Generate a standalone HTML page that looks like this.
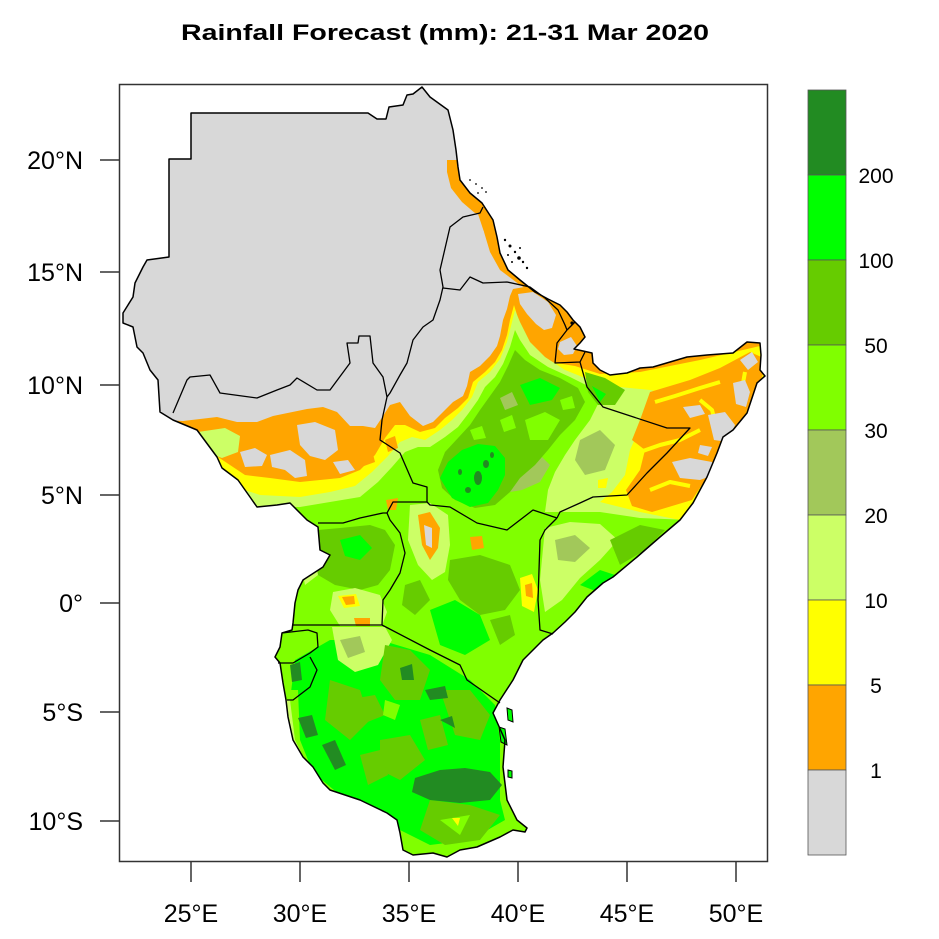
<!DOCTYPE html>
<html><head><meta charset="utf-8"><style>
html,body{margin:0;padding:0;background:#fff;}
svg{display:block;}
text{font-family:"Liberation Sans",Arial,sans-serif;fill:#000;}
</style></head><body>
<svg width="939" height="939" viewBox="0 0 939 939" xmlns="http://www.w3.org/2000/svg">
<defs>
<clipPath id="land"><path id="outl" d="M191,113 L368,113 L377,119 L386,119 L389,107 L403,105 L407,95 L413,94 L422,87 L430,97 L448,110 L453,130 L456,150 L458,167 L460,180 L470,193 L482,203 L493,220 L497,237 L500,253 L508,270 L520,280 L535,292 L548,299 L560,305 L567,312 L573,320 L580,327 L585,337 L580,343 L574,349 L583,351 L592,353 L593,363 L600,370 L610,375 L627,373 L640,368 L653,367 L670,362 L687,357 L707,355 L733,353 L747,342 L760,343 L761,355 L760,370 L765,376 L757,383 L747,413 L733,430 L723,437 L717,453 L707,477 L693,503 L680,520 L660,537 L637,557 L613,577 L603,583 L587,597 L575,612 L565,622 L553,633 L543,640 L533,650 L523,660 L513,680 L500,700 L493,713 L505,740 L503,767 L507,800 L517,820 L527,828 L525,832 L513,830 L500,837 L477,847 L460,850 L447,857 L433,853 L413,855 L403,850 L400,833 L397,820 L387,813 L360,800 L330,790 L323,783 L313,767 L303,757 L293,740 L288,717 L286,700 L283,683 L280,663 L275,657 L280,647 L282,633 L292,630 L293,623 L295,603 L298,590 L303,580 L323,567 L330,555 L320,550 L318,527 L307,520 L290,503 L277,505 L257,507 L250,497 L238,480 L222,468 L217,457 L197,430 L173,420 L160,412 L158,380 L150,370 L143,353 L137,347 L133,327 L123,323 L123,313 L133,297 L135,283 L143,267 L147,260 L169,257 L169,159 L191,159 Z"/></clipPath>
</defs>

<text x="445" y="40" font-size="22" font-weight="bold" text-anchor="middle" textLength="528" lengthAdjust="spacingAndGlyphs">Rainfall Forecast (mm): 21-31 Mar 2020</text>

<g clip-path="url(#land)">
<rect x="100" y="80" width="700" height="800" fill="#D8D8D8"/>
<path fill="#FFA500" d="M447,160 L447,172 L451,188 L462,202 L476,214 L484,232 L490,252 L500,270 L520,285 L545,300 L565,315 L580,332 L640,332 L640,160 Z"/>
<path fill="#D8D8D8" d="M462,208 L478,214 L484,232 L478,236 L466,222 Z"/>
<path fill="#FFA500" d="M100,417 L183,421 L217,417 L237,422 L257,422 L273,416 L307,409 L323,407 L337,412 L350,426 L363,426 L375,428 L383,416 L390,405 L400,402 L410,416 L423,426 L433,422 L443,412 L453,402 L463,396 L467,386 L470,372 L480,366 L490,356 L497,346 L500,336 L503,320 L507,309 L510,296 L513,289 L530,286 L550,296 L570,312 L585,332 L800,335 L800,900 L100,900 Z"/>
<path fill="#D8D8D8" d="M518,294 L533,292 L548,302 L556,315 L552,328 L544,330 L536,324 L527,314 L520,304 Z"/>
<path fill="#D8D8D8" d="M560,342 L571,337 L577,346 L573,354 L564,355 L558,349 Z"/>
<path fill="#FFFF00" d="M100,445 L200,445 L230,465 L245,475 L270,478 L300,482 L320,480 L340,478 L360,470 L375,455 L385,438 L395,425 L405,425 L420,432 L435,428 L445,418 L458,408 L468,398 L473,382 L485,372 L495,362 L502,350 L507,335 L510,320 L514,305 L518,318 L525,336 L535,350 L550,362 L575,366 L600,374 L640,372 L700,360 L760,346 L800,340 L800,900 L100,900 Z"/>
<path fill="#CCFF66" d="M100,488 L230,485 L260,495 L300,497 L330,492 L355,486 L372,472 L388,456 L400,442 L412,437 L425,440 L440,430 L452,420 L462,410 L472,397 L478,382 L490,372 L500,359 L507,342 L512,322 L515,310 L520,322 L530,342 L545,357 L565,370 L590,380 L620,387 L650,390 L668,394 L655,410 L640,428 L630,450 L625,475 L612,492 L600,502 L640,512 L680,520 L800,520 L800,900 L100,900 Z"/>
<path fill="#CCFF66" d="M198,432 L225,428 L240,436 L238,452 L222,458 L205,452 Z"/>
<path fill="#FFA500" d="M360,455 L372,450 L375,462 L364,466 Z"/>
<path fill="#FFA500" d="M385,440 L395,436 L398,448 L388,452 Z"/>
<path fill="#D8D8D8" d="M240,452 L255,448 L267,455 L262,466 L245,467 Z"/>
<path fill="#D8D8D8" d="M270,455 L290,450 L305,460 L307,476 L295,478 L285,470 L272,467 Z"/>
<path fill="#D8D8D8" d="M297,425 L315,422 L335,430 L338,450 L325,460 L310,456 L300,445 Z"/>
<path fill="#D8D8D8" d="M333,462 L348,460 L355,470 L340,474 Z"/>
<path fill="#FFA500" d="M650,392 L690,380 L720,368 L750,352 L768,360 L760,382 L745,415 L730,436 L715,460 L705,480 L692,500 L672,506 L652,512 L632,506 L626,490 L640,470 L645,450 L632,440 L640,420 Z"/>
<g stroke="#FFFF00" stroke-width="4" fill="none" stroke-linejoin="round">
<path d="M655,402 L675,396 L700,388 L720,382"/>
<path d="M640,452 L660,445 L680,440 L700,430"/>
<path d="M650,490 L670,482 L690,486"/>
<path d="M700,400 L712,410 L716,425"/>
<path d="M740,400 L745,372"/>
</g>
<g fill="#D8D8D8">
<path d="M733,383 L745,380 L750,392 L746,407 L736,404 Z"/>
<path d="M683,407 L700,405 L705,414 L690,418 Z"/>
<path d="M708,415 L725,412 L735,425 L728,442 L714,440 Z"/>
<path d="M672,462 L690,458 L712,462 L716,474 L700,480 L680,478 Z"/>
<path d="M740,360 L752,352 L758,362 L748,370 Z"/>
<path d="M700,445 L712,447 L708,456 L698,453 Z"/>
</g>
<path fill="#80FF00" d="M100,512 L250,507 L300,507 L330,502 L360,497 L378,482 L392,467 L405,452 L418,447 L430,447 L445,437 L458,427 L468,414 L478,400 L485,387 L495,377 L503,364 L510,347 L515,330 L520,340 L530,355 L548,367 L570,377 L590,387 L600,400 L590,420 L575,440 L565,455 L555,472 L548,490 L545,512 L570,512 L600,512 L640,518 L690,520 L800,520 L800,900 L100,900 Z"/>
<path fill="#CCFF66" d="M545,528 L570,522 L600,524 L618,540 L600,560 L580,578 L562,600 L545,612 L540,580 Z"/>
<path fill="#A2C85A" d="M555,540 L575,535 L590,548 L575,562 L558,560 Z"/>
<path fill="#FFFF00" d="M520,578 L532,574 L538,590 L534,612 L522,606 Z"/>
<path fill="#FFA500" d="M525,585 L532,583 L533,598 L526,596 Z"/>
<path fill="#A2C85A" d="M580,440 L600,430 L615,445 L605,470 L585,475 L575,460 Z"/>
<path fill="#A2C85A" d="M505,470 L520,458 L540,455 L550,465 L540,482 L522,490 L510,492 Z"/>
<path fill="#FFFF00" d="M598,480 L608,478 L606,488 L598,488 Z"/>
<path fill="#CCFF66" d="M410,505 L430,503 L448,515 L450,545 L445,572 L432,580 L418,565 L408,540 Z"/>
<path fill="#FFA500" d="M418,515 L430,512 L440,528 L438,548 L430,560 L422,545 Z"/>
<path fill="#D8D8D8" d="M424,525 L432,528 L432,548 L426,545 Z"/>
<path fill="#FFA500" d="M470,537 L482,536 L484,548 L472,550 Z"/>
<path fill="#FFA500" d="M386,500 L398,498 L396,510 L388,510 Z"/>
<path fill="#66CC00" d="M438,470 L445,452 L458,438 L470,425 L480,410 L490,396 L500,382 L508,366 L515,350 L525,360 L540,370 L560,378 L578,388 L585,402 L575,420 L560,435 L548,450 L535,465 L520,478 L510,492 L495,505 L475,508 L455,500 L442,488 Z"/>
<path fill="#80FF00" d="M525,420 L545,412 L560,420 L548,440 L530,440 Z"/>
<path fill="#80FF00" d="M500,420 L512,415 L516,428 L504,432 Z"/>
<path fill="#80FF00" d="M470,430 L482,426 L486,438 L474,440 Z"/>
<path fill="#80FF00" d="M560,400 L572,396 L575,408 L563,410 Z"/>
<path fill="#A2C85A" d="M500,398 L512,392 L518,405 L505,410 Z"/>
<path fill="#00FF00" d="M440,478 L448,462 L462,450 L478,444 L495,446 L505,458 L505,475 L498,490 L488,503 L470,507 L452,498 Z"/>
<path fill="#00FF00" d="M520,385 L540,378 L560,388 L552,400 L530,405 Z"/>
<g fill="#228B22">
<ellipse cx="478" cy="478" rx="4" ry="7"/>
<ellipse cx="486" cy="464" rx="3" ry="4"/>
<ellipse cx="468" cy="490" rx="3" ry="3"/>
<ellipse cx="492" cy="455" rx="2" ry="3"/>
<ellipse cx="460" cy="472" rx="2" ry="3"/>
</g>
<path fill="#66CC00" d="M585,372 L605,378 L625,390 L615,405 L598,405 L588,392 Z"/>
<path fill="#00FF00" d="M592,386 L606,394 L600,402 Z"/>
<path fill="#66CC00" d="M610,540 L640,525 L665,530 L645,550 L620,565 Z"/>
<path fill="#00FF00" d="M580,585 L600,570 L615,575 L598,592 Z"/>
<path fill="#66CC00" d="M318,530 L340,528 L370,525 L385,530 L395,545 L390,570 L378,585 L360,590 L335,585 L318,575 L308,560 Z"/>
<path fill="#00FF00" d="M340,540 L360,535 L372,548 L360,560 L345,556 Z"/>
<path fill="#CCFF66" d="M300,560 L315,556 L318,575 L305,585 Z"/>
<path fill="#CCFF66" d="M333,592 L355,588 L380,595 L387,612 L382,626 L340,626 L330,610 Z"/>
<path fill="#FFFF00" d="M338,596 L356,594 L360,606 L344,608 Z"/>
<path fill="#FFA500" d="M342,597 L354,596 L355,604 L346,605 Z"/>
<path fill="#FFA500" d="M354,618 L370,618 L370,626 L356,626 Z"/>
<path fill="#66CC00" d="M450,560 L480,555 L510,565 L520,590 L505,610 L480,615 L460,600 L448,580 Z"/>
<path fill="#00FF00" d="M430,610 L455,600 L480,615 L490,640 L465,655 L440,645 Z"/>
<path fill="#66CC00" d="M405,585 L420,580 L430,600 L415,615 L402,605 Z"/>
<path fill="#66CC00" d="M490,620 L510,615 L515,635 L500,645 Z"/>
<path fill="#00FF00" d="M295,660 L330,640 L380,640 L430,655 L470,680 L495,705 L500,740 L500,800 L505,820 L470,840 L430,845 L400,830 L380,810 L340,795 L310,770 L295,745 L290,700 Z"/>
<path fill="#CCFF66" d="M332,627 L385,627 L392,640 L378,665 L355,672 L338,660 Z"/>
<path fill="#A2C85A" d="M340,640 L360,636 L365,652 L348,658 Z"/>
<path fill="#66CC00" d="M385,645 L410,650 L430,670 L420,700 L395,700 L380,680 Z"/>
<path fill="#66CC00" d="M440,690 L470,690 L490,715 L480,740 L455,735 Z"/>
<path fill="#66CC00" d="M330,680 L360,690 L370,720 L350,740 L325,720 Z"/>
<path fill="#66CC00" d="M380,740 L410,735 L425,760 L400,780 L380,770 Z"/>
<path fill="#66CC00" d="M360,755 L380,750 L388,775 L368,785 Z"/>
<path fill="#66CC00" d="M420,720 L440,715 L448,745 L428,750 Z"/>
<path fill="#66CC00" d="M345,700 L375,695 L385,715 L360,725 Z"/>
<path fill="#66CC00" d="M430,800 L470,805 L500,815 L480,840 L445,845 L420,830 Z"/>
<path fill="#80FF00" d="M285,690 L298,690 L300,740 L310,765 L300,770 L290,745 Z"/>
<path fill="#CCFF66" d="M282,700 L290,700 L295,740 L305,760 L298,762 L288,740 Z"/>
<path fill="#80FF00" d="M440,820 L470,815 L460,835 Z"/>
<path fill="#80FF00" d="M385,700 L400,705 L395,720 L383,715 Z"/>
<path fill="#FFFF00" d="M452,818 L460,818 L458,826 Z"/>
<g fill="#228B22">
<path d="M415,778 L440,770 L465,768 L490,772 L502,785 L490,800 L460,803 L430,800 L412,792 Z"/>
<path d="M298,718 L312,715 L318,735 L306,738 Z"/>
<path d="M322,745 L335,740 L346,765 L335,770 Z"/>
<path d="M400,668 L412,664 L414,680 L402,680 Z"/>
<path d="M425,690 L445,686 L448,698 L430,700 Z"/>
<path d="M440,720 L452,716 L455,728 Z"/>
<path d="M290,665 L300,662 L302,680 L292,682 Z"/>
</g>
</g>

<g fill="#00FF00" stroke="#000" stroke-width="1">
<path d="M507,708 L512,710 L513,722 L508,720 Z"/>
<path d="M499,727 L505,729 L507,745 L501,742 Z"/>
<path d="M508,770 L512,771 L512,778 L508,777 Z"/>
</g>
<g fill="#000">
<circle cx="505" cy="240" r="1.2"/><circle cx="510" cy="246" r="1.5"/><circle cx="515" cy="252" r="1.2"/>
<circle cx="519" cy="258" r="1.8"/><circle cx="523" cy="262" r="1.2"/><circle cx="512" cy="262" r="1"/>
<circle cx="527" cy="268" r="1.2"/><circle cx="520" cy="248" r="1"/><circle cx="508" cy="255" r="1"/>
<circle cx="470" cy="180" r="0.9"/><circle cx="476" cy="184" r="0.9"/><circle cx="482" cy="188" r="0.9"/>
<circle cx="486" cy="192" r="0.9"/><circle cx="478" cy="193" r="0.9"/><circle cx="572" cy="323" r="1.6"/>
</g>

<use href="#outl" fill="none" stroke="#000" stroke-width="1.5" stroke-linejoin="round"/>

<g fill="none" stroke="#000" stroke-width="1.3" stroke-linejoin="round">
<path d="M173,413 L187,380 L190,377 L210,375 L220,393 L257,398 L277,390 L290,385 L297,378 L317,390 L330,390 L350,363 L347,343 L358,343 L359,336 L370,336 L373,363 L383,377 L387,397"/>
<path d="M387,397 L390,393 L400,375 L407,363 L413,340 L423,327 L433,320 L440,300 L443,287 L440,270 L450,227 L463,217 L480,213 L483,207"/>
<path d="M443,288 L460,290 L470,277 L483,283 L507,282 L530,287 L545,298 L558,310 L565,325 L567,330"/>
<path d="M567,330 L575,322"/>
<path d="M567,330 L557,343 L555,363 L580,362 L585,352"/>
<path d="M580,362 L587,387 L603,407 L667,428 L690,428 L667,453 L647,473 L627,495 L593,497 L580,503 L560,512 L557,518"/>
<path d="M557,518 L545,530 L540,540 L538,600 L540,630 L553,634"/>
<path d="M387,397 L382,420 L380,440 L400,453 L413,483 L427,487 L427,502"/>
<path d="M387,513 L393,502 L427,502 L430,505 L450,507 L477,523 L507,530 L533,510 L557,518"/>
<path d="M387,513 L390,520 L400,533 L405,553 L400,573 L390,590 L383,600 L382,625"/>
<path d="M318,523 L343,523 L360,518 L383,513 L387,513"/>
<path d="M293,625 L382,625 L430,650 L460,665 L467,680 L500,703"/>
<path d="M282,633 L308,630 L317,633 L318,647 L310,653 L293,663 L278,663"/>
<path d="M310,657 L317,670 L310,687 L293,700 L287,700"/>
</g>

<rect x="119.5" y="84.5" width="648" height="777" fill="none" stroke="#333" stroke-width="1.5"/>

<g stroke="#333" stroke-width="1.5">
<line x1="100" y1="160" x2="119" y2="160"/>
<line x1="100" y1="272" x2="119" y2="272"/>
<line x1="100" y1="385" x2="119" y2="385"/>
<line x1="100" y1="495" x2="119" y2="495"/>
<line x1="100" y1="603" x2="119" y2="603"/>
<line x1="100" y1="712" x2="119" y2="712"/>
<line x1="100" y1="821" x2="119" y2="821"/>
<line x1="191" y1="862" x2="191" y2="882"/>
<line x1="300" y1="862" x2="300" y2="882"/>
<line x1="409" y1="862" x2="409" y2="882"/>
<line x1="518" y1="862" x2="518" y2="882"/>
<line x1="627" y1="862" x2="627" y2="882"/>
<line x1="736" y1="862" x2="736" y2="882"/>
</g>

<g font-size="25" text-anchor="end">
<text x="83" y="169">20°N</text>
<text x="83" y="281">15°N</text>
<text x="83" y="394">10°N</text>
<text x="83" y="504">5°N</text>
<text x="83" y="612">0°</text>
<text x="83" y="721">5°S</text>
<text x="83" y="830">10°S</text>
</g>
<g font-size="25" text-anchor="middle">
<text x="191" y="922">25°E</text>
<text x="300" y="922">30°E</text>
<text x="409" y="922">35°E</text>
<text x="518" y="922">40°E</text>
<text x="627" y="922">45°E</text>
<text x="736" y="922">50°E</text>
</g>

<g stroke="#555" stroke-width="0.8">
<rect x="808" y="90" width="38" height="85" fill="#228B22"/>
<rect x="808" y="175" width="38" height="85" fill="#00FF00"/>
<rect x="808" y="260" width="38" height="85" fill="#66CC00"/>
<rect x="808" y="345" width="38" height="85" fill="#80FF00"/>
<rect x="808" y="430" width="38" height="85" fill="#A2C85A"/>
<rect x="808" y="515" width="38" height="85" fill="#CCFF66"/>
<rect x="808" y="600" width="38" height="85" fill="#FFFF00"/>
<rect x="808" y="685" width="38" height="85" fill="#FFA500"/>
<rect x="808" y="770" width="38" height="85" fill="#D8D8D8"/>
</g>
<g font-size="21" text-anchor="middle">
<text x="876" y="183">200</text>
<text x="876" y="268">100</text>
<text x="876" y="353">50</text>
<text x="876" y="438">30</text>
<text x="876" y="523">20</text>
<text x="876" y="608">10</text>
<text x="876" y="693">5</text>
<text x="876" y="778">1</text>
</g>
</svg>
</body></html>
